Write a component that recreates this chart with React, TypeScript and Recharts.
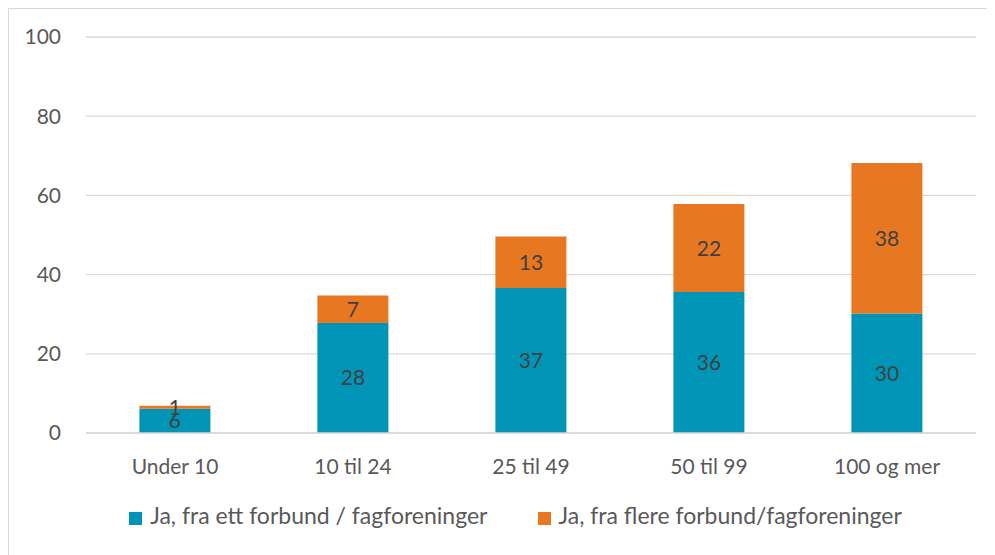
import React from 'react';
import { Bar, BarChart, XAxis, YAxis, CartesianGrid, Legend, LabelList } from 'recharts';

const categories = ['Under 10', '10 til 24', '25 til 49', '50 til 99', '100 og mer'];
const enkelt = [6.1, 27.8, 36.6, 35.6, 30.2];
const flere = [0.8, 6.9, 13.0, 22.2, 38.0];
const yTicks = [0, 20, 40, 60, 80, 100];

const BLUE = '#0095b6';
const ORANGE = '#e87722';
const FONT = 'Lato, "Noto Sans", sans-serif';

const data = categories.map((name, i) => ({
  name,
  enkelt: enkelt[i],
  flere: flere[i],
}));

const fmt = (v: any) => Math.round(Number(v));

const App: React.FC = () => {
  return (
    <div
      style={{
        width: 990,
        height: 552,
        border: '1px solid #d9d9d9',
        boxSizing: 'border-box',
        fontFamily: FONT,
        background: '#fff',
      }}
    >
      <BarChart
        width={988}
        height={550}
        data={data}
        margin={{ top: 28, right: 21, left: 0, bottom: 30 }}
        barCategoryGap="30%"
      >
        <CartesianGrid vertical={false} stroke="#d9d9d9" strokeWidth={1.3} />
        <XAxis
          dataKey="name"
          tickLine={false}
          axisLine={{ stroke: '#d9d9d9', strokeWidth: 1.3 }}
          tick={{ fill: '#595959', fontSize: 21, fontFamily: FONT }}
          tickMargin={20}
          height={68}
        />
        <YAxis
          domain={[0, 100]}
          ticks={yTicks}
          tickLine={false}
          axisLine={false}
          tick={{ fill: '#595959', fontSize: 21, fontFamily: FONT }}
          tickMargin={19}
          width={77}
        />
        <Legend
          iconType="square"
          iconSize={13}
          wrapperStyle={{ fontSize: 23, color: '#595959', fontFamily: FONT, paddingLeft: 28 }}
          formatter={(value, _entry, index) => (
            <span style={{ color: '#595959', marginLeft: 4, marginRight: index === 0 ? 40 : 0 }}>{value}</span>
          )}
        />
        <Bar dataKey="enkelt" name="Ja, fra ett forbund / fagforeninger" stackId="a" fill={BLUE} isAnimationActive={false}>
          <LabelList dataKey="enkelt" position="center" formatter={fmt} fill="#404040" fontSize={21} fontFamily={FONT} />
        </Bar>
        <Bar dataKey="flere" name="Ja, fra flere forbund/fagforeninger" stackId="a" fill={ORANGE} isAnimationActive={false}>
          <LabelList dataKey="flere" position="center" formatter={fmt} fill="#404040" fontSize={21} fontFamily={FONT} />
        </Bar>
      </BarChart>
    </div>
  );
};

export default App;
